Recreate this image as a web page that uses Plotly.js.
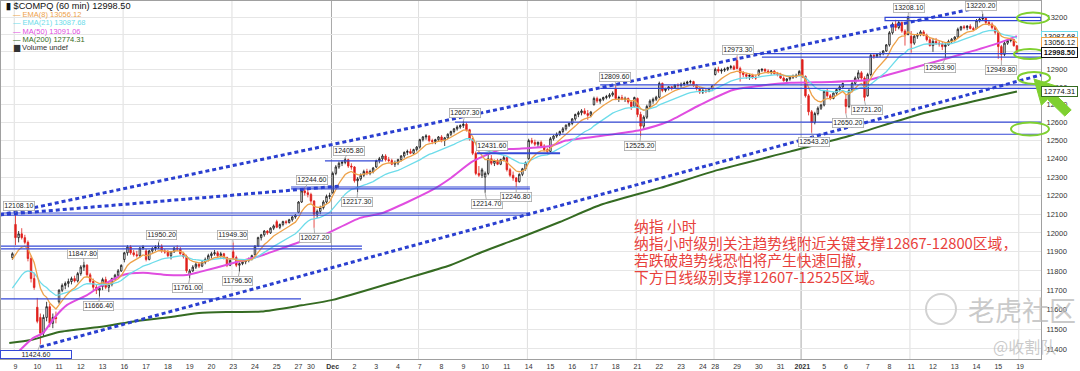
<!DOCTYPE html>
<html><head><meta charset="utf-8">
<script src="https://cdn.plot.ly/plotly-3.0.1.min.js"></script>
<style>html,body{margin:0;padding:0;background:#fff}#chart{width:1080px;height:371px}</style>
</head><body><div id="chart"></div>
<script>
// ---------- DATA ----------
// hourly bars; first value is the last bar of Nov 6, then one row per trading day
const open = [
11870,
12045,11975,11995,11975,11950,11865,11760,
11612,11560,11480,11560,11615,11530,11560,
11640,11700,11725,11735,11745,11760,11748,
11786,11820,11830,11780,11745,11715,11700,
11720,11755,11715,11730,11760,11778,11800,
11860,11895,11925,11895,11885,11880,11920,
11905,11860,11905,11918,11925,11930,11905,
11899,11880,11900,11920,11915,11890,11875,
11780,11800,11820,11835,11825,11845,11860,
11880,11890,11895,11880,11890,11870,11830,
11900,11870,11830,11838,11848,11855,11862,
11885,11930,11975,11990,12010,12000,12025,
12060,12030,12045,12060,12055,12070,12085,
12110,12165,12225,12215,
12206,12170,12100,12115,12135,12165,12195,
12215,12320,12355,12375,12380,12395,12360,
12355,12280,12290,12310,12330,12320,12330,
12355,12390,12400,12415,12395,12390,12370,
12377,12395,12415,12435,12440,12430,12450,
12464,12505,12520,12525,12500,12495,12505,
12520,12500,12515,12535,12550,12565,12575,
12583,12590,12560,12510,12430,12320,12310,
12300,12320,12400,12375,12390,12370,12395,
12406,12340,12310,12295,12275,12315,12345,
12400,12500,12490,12480,12490,12470,12450,
12440,12510,12525,12535,12550,12565,12585,
12595,12620,12645,12655,12665,12650,12640,
12700,12735,12720,12730,12740,12745,12755,
12790,12735,12740,12730,12735,12715,12690,
12735,12645,12580,12630,12690,12720,12730,
12742,12820,12780,12790,12800,12795,12810,
12808,12815,12820,12828,12830,12810,12790,
12771,12780,12775,12790,
12870,12900,12890,12895,12900,12910,12915,
12950,12905,12880,12870,12860,12865,12855,
12870,12895,12900,12890,12885,12890,12875,
12870,12850,12835,12845,12855,12860,12865,
12955,12860,12750,12660,12600,12650,12680,
12698,12775,12750,12735,12765,12785,12800,
12730,12690,12780,12820,12850,12880,12850,
12750,12870,12980,12975,12985,12990,13005,
13040,13110,13160,13140,13170,13120,13100,
13090,13050,13090,13100,13115,13095,13070,
13036,13060,13050,13045,13030,13040,13060,
13072,13085,13130,13145,13140,13148,13135,
13135,13180,13190,13195,13170,13160,13140,
13113,13030,12985,13050,13065,13070,13035
];
const high = [
11898,
12108.1,12010,12025,11990,11960,11880,11790,
11660,11580,11575,11640,11630,11580,11590,
11705,11735,11745,11760,11770,11775,11795,
11830,11847.8,11835,11790,11760,11730,11720,
11765,11770,11740,11765,11785,11810,11835,
11900,11935,11935,11910,11905,11925,11935,
11915,11910,11925,11935,11950.2,11940,11915,
11910,11905,11925,11935,11925,11900,11885,
11810,11830,11845,11845,11855,11870,11890,
11900,11910,11905,11900,11895,11875,11865,
11949.3,11880,11845,11855,11860,11870,11885,
11935,11980,11995,12015,12015,12030,12045,
12070,12050,12065,12068,12075,12090,12100,
12170,12235,12244.6,12230,
12215,12175,12125,12145,12175,12205,12215,
12330,12365,12385,12390,12405.8,12400,12375,
12360,12300,12320,12340,12345,12340,12355,
12395,12410,12425,12425,12410,12400,12390,
12400,12420,12440,12450,12455,12455,12470,
12510,12525,12535,12530,12510,12510,12525,
12530,12520,12540,12555,12570,12585,12590,
12607.3,12600,12565,12515,12440,12360,12350,
12330,12431.6,12420,12395,12400,12400,12415,
12410,12350,12330,12300,12320,12350,12385,
12510,12515,12505,12495,12500,12480,12460,
12520,12530,12545,12555,12575,12590,12600,
12625,12650,12665,12675,12680,12670,12665,
12745,12745,12735,12745,12755,12765,12775,
12809.6,12750,12755,12745,12740,12725,12745,
12740,12660,12640,12700,12730,12740,12750,
12830,12825,12795,12805,12805,12815,12820,
12825,12830,12835,12840,12835,12815,12800,
12790,12790,12795,12810,
12910,12915,12905,12910,12915,12925,12925,
12973.3,12915,12890,12880,12875,12875,12870,
12900,12905,12905,12900,12895,12895,12885,
12880,12860,12850,12860,12870,12875,12895,
12958,12865,12760,12670,12660,12690,12705,
12780,12790,12760,12770,12790,12810,12825,
12760,12790,12830,12860,12895,12890,12860,
12880,12990,12990,12990,13000,13010,13045,
13120,13170,13185,13180,13175,13130,13208.1,
13120,13100,13110,13125,13125,13105,13080,
13080,13080,13065,13060,13050,13070,13080,
13090,13140,13150,13155,13155,13160,13145,
13190,13200,13220.2,13200,13180,13170,13150,
13120,13040,13060,13075,13080,13075,13040
];
const low = [
11858,
11935,11950,11965,11940,11850,11740,11702,
11530,11424.6,11465,11540,11510,11505,11530,
11630,11690,11705,11715,11730,11740,11740,
11775,11800,11770,11735,11700,11680,11666.4,
11700,11705,11690,11720,11750,11770,11795,
11845,11880,11885,11875,11870,11870,11910,
11850,11855,11895,11905,11915,11895,11890,
11870,11860,11895,11905,11885,11865,11790,
11761,11795,11810,11815,11820,11835,11850,
11865,11880,11870,11870,11860,11820,11825,
11860,11820,11796.5,11830,11835,11845,11855,
11880,11925,11960,11980,11990,11995,12015,
12025,12020,12035,12045,12050,12060,12075,
12105,12160,12200,12190,
12160,12027.2,12080,12100,12125,12155,12180,
12210,12310,12345,12360,12370,12350,12340,
12270,12217.3,12280,12300,12310,12310,12320,
12350,12375,12390,12385,12380,12365,12355,
12365,12385,12405,12420,12425,12425,12440,
12455,12495,12505,12490,12480,12480,12495,
12490,12470,12510,12525,12540,12555,12565,
12570,12550,12500,12420,12310,12300,12295,
12214.7,12310,12365,12360,12365,12365,12385,
12330,12300,12280,12246.8,12270,12305,12335,
12395,12480,12470,12465,12460,12440,12425,
12435,12500,12515,12525,12540,12555,12575,
12585,12610,12630,12640,12645,12615,12630,
12695,12710,12705,12720,12730,12735,12745,
12725,12715,12725,12715,12705,12670,12685,
12630,12525.2,12560,12620,12680,12705,12720,
12735,12770,12770,12780,12780,12790,12795,
12795,12805,12810,12818,12800,12780,12760,
12760,12765,12770,12785,
12865,12880,12875,12885,12890,12900,12895,
12900,12830,12855,12845,12840,12845,12840,
12860,12885,12880,12875,12870,12870,12860,
12845,12830,12825,12835,12845,12850,12860,
12850,12740,12640,12543.2,12590,12640,12670,
12690,12740,12725,12730,12755,12775,12795,
12650.2,12680,12770,12810,12840,12840,12721.2,
12745,12860,12960,12965,12970,12980,13000,
13030,13100,13120,13130,13110,13036,13095,
12995,13040,13075,13090,13090,13060,13030,
13000,13040,13030,13010,12963.9,13035,13050,
13060,13080,13120,13130,13125,13130,13120,
13130,13170,13180,13160,13150,13130,13100,
12960,12949.8,12975,13040,13055,13030,12990
];
const close = [
11890,
11975,11995,11975,11950,11865,11760,11714,
11540,11480,11560,11615,11530,11560,11554,
11700,11725,11735,11745,11760,11748,11786,
11820,11830,11780,11745,11715,11700,11710,
11755,11715,11730,11760,11778,11800,11829,
11895,11925,11895,11885,11880,11920,11924,
11860,11905,11918,11925,11930,11905,11899,
11880,11900,11920,11915,11890,11875,11801,
11800,11820,11835,11825,11845,11860,11880,
11890,11895,11880,11890,11870,11830,11855,
11870,11830,11838,11848,11855,11862,11880,
11930,11975,11990,12010,12000,12025,12037,
12030,12045,12060,12055,12070,12085,12094,
12165,12225,12215,12206,
12170,12100,12115,12135,12165,12195,12199,
12320,12355,12375,12380,12395,12360,12355,
12280,12290,12310,12330,12320,12330,12349,
12390,12400,12415,12395,12390,12370,12377,
12395,12415,12435,12440,12430,12450,12464,
12505,12520,12525,12500,12495,12505,12520,
12500,12515,12535,12550,12565,12575,12583,
12590,12560,12510,12430,12320,12310,12339,
12320,12400,12375,12390,12370,12395,12406,
12340,12310,12295,12275,12315,12345,12378,
12500,12490,12480,12490,12470,12450,12440,
12510,12525,12535,12550,12565,12585,12595,
12620,12645,12655,12665,12650,12640,12658,
12735,12720,12730,12740,12745,12755,12765,
12735,12740,12730,12735,12715,12690,12740,
12645,12580,12630,12690,12720,12730,12742,
12820,12780,12790,12800,12795,12810,12808,
12815,12820,12828,12830,12810,12790,12771,
12780,12775,12790,12805,
12900,12890,12895,12900,12910,12915,12900,
12905,12880,12870,12860,12865,12855,12850,
12895,12900,12890,12885,12890,12875,12870,
12850,12835,12845,12855,12860,12865,12888,
12860,12750,12660,12600,12650,12680,12698,
12775,12750,12735,12765,12785,12800,12819,
12690,12780,12820,12850,12880,12850,12741,
12870,12980,12975,12985,12990,13005,13040,
13110,13160,13140,13170,13120,13100,13202,
13050,13090,13100,13115,13095,13070,13036,
13060,13050,13045,13030,13040,13060,13072,
13085,13130,13145,13140,13148,13135,13129,
13180,13190,13195,13170,13160,13140,13113,
13030,12985,13050,13065,13070,13035,12998.5
];
// first bar of each labelled day (bar number) and the axis labels
const dayStart = [0,7,14,21,28,35,42,49,56,63,70,77,84,91,95,102,109,116,123,130,137,144,151,158,165,172,179,186,193,200,207,214,221,225,232,239,246,253,260,267,274,281,288,295,302,309,316,323];
const dayLabels = ['9','10','11','12','13','16','17','18','19','20','23','24','25','27','30','<b>Dec</b>','2','3','4','7','8','9','10','11','14','15','16','17','18','21','22','23','24','28','29','30','31','<b>2021</b>','5','6','7','8','11','12','13','14','15','19'];
const weekStart = [0,35,70,102,130,165,200,225,253,288,323];
const monthStart = [102,253];
// indicator readings
const ema8Seed = 11860, ema21Seed = 11711;
const ma50Bar = [-2,5.6,8.8,12.7,16.6,23,27,34.6,41,48.7,55,59.3,70,78.6,91.5,97,110.8,118,134,140,147,156,162,172,177,188,201,209.5,220,230.7,249,262,274,278,294,305,316,322];
const ma50Val = [11340,11455,11480,11562,11624,11675,11717,11779,11790,11779,11779,11795,11841,11878,11952,11973,12080,12106,12230,12295,12385,12450,12455,12470,12500,12525,12559,12603,12698,12783,12823,12828,12839,12856,12935,12990,13050,13091];
const ma200Bar = [-2,5,14,27,37,50,59,69,79,92,102,124,140,150,162,175,188,207,226,249,268,291,322];
const ma200Val = [11430,11445,11486,11511,11537,11562,11583,11588,11590,11622,11650,11753,11831,11899,11973,12058,12149,12240,12339,12439,12525,12648,12774];
const lastClose = 12998.50, ema8Last = 13056.12, ema21Last = 13087.68, ma50Last = 13091.06, ma200Last = 12774.31;
// marked highs / lows
const markBar   = [0,22,46,70,56,72,27,93,106,110,96,144,152,151,161,193,201,232,287,311,299,317,273,267,256];
const markPrice = [12108.10,11847.80,11950.20,11949.30,11761.00,11796.50,11666.40,12244.60,12405.80,12217.30,12027.20,12607.30,12431.60,12214.70,12246.80,12809.60,12525.20,12973.30,13208.10,13220.20,12963.90,12949.80,12721.20,12650.20,12543.20];
const lowMarkBar = 8, lowMarkPrice = 11424.60;
// support / resistance levels
const levelPrice = [12106,12094,11930,11916,11655,12246,12236,12388,12430,12602,12535,12812,12792,12990,12970];
const yTicks = [11400,11500,11600,11700,11800,11900,12000,12100,12200,12300,12400,12500,12600,12700,12800,12900,13000,13100,13200];
const hiddenTicks = [13000,13100]; // covered by the value boxes in the reference
const noteLines = ['纳指 小时','纳指小时级别关注趋势线附近关键支撑12867-12800区域，','若跌破趋势线恐怕将产生快速回撤，','下方日线级别支撑12607-12525区域。'];

// ---------- BUILD ----------
const bars = close.map((_, i) => i - 1);
function ema(seed, n){ const k = 2/(n+1); let e = seed; return close.map((c,i)=>{ if(i>0) e = e + k*(c-e); else e = seed; return e; }); }
const ema8 = ema(ema8Seed, 8), ema21 = ema(ema21Seed, 21);

const PX = x => (x - 1) / 1040;
const PY = y => (359 - y) / 358;
const L = v => Math.log10(v);
const FONT = 'Liberation Sans, Arial, sans-serif';
const BLUE = '#3448d6';

const traces = [
  {type:'scatter', mode:'lines', x:ma200Bar, y:ma200Val, line:{color:'#356b22', width:2, shape:'spline', smoothing:0.6}, hoverinfo:'skip'},
  {type:'scatter', mode:'lines', x:ma50Bar, y:ma50Val, line:{color:'#e04de0', width:2, shape:'spline', smoothing:0.6}, hoverinfo:'skip'},
  {type:'scatter', mode:'lines', x:bars, y:ema21, line:{color:'#6ddcea', width:1.3}, hoverinfo:'skip'},
  {type:'scatter', mode:'lines', x:bars, y:ema8, line:{color:'#eea24a', width:1.3}, hoverinfo:'skip'},
  {type:'candlestick', x:bars, open:open, high:high, low:low, close:close, whiskerwidth:0,
   increasing:{line:{color:'#111111', width:0.8}, fillcolor:'#ffffff'},
   decreasing:{line:{color:'#e0201c', width:0.8}, fillcolor:'#e0201c'}, hoverinfo:'skip'}
];

const shapes = [];
weekStart.forEach(b => shapes.push({type:'line', xref:'x', yref:'paper', x0:b-0.4, x1:b-0.4, y0:0, y1:1, layer:'below',
  line:{color: monthStart.includes(b) ? '#a8a8a8' : '#dedede', width:1}}));
// level lines (bar ranges where each level is drawn)
const levelFrom = [-4.7,-4.7,-4.7,-4.7,-4.7,88.6,88.6,99.5,148.4,141.3,146.1,188,188,229.7,240];
const levelTo   = [165.4,165.4,111.4,111.4,91.8,165.4,165.4,118.2,175.1,329.7,329.7,329.7,329.7,329.7,329.7];
levelPrice.forEach((p,i) => shapes.push({type:'line', xref:'x', yref:'y', x0:levelFrom[i], x1:levelTo[i], y0:p, y1:p,
  line:{color:BLUE, width: i===8 ? 2 : 1.2}}));
shapes.push({type:'rect', xref:'x', yref:'y', x0:279.6, x1:329.7, y0:13181, y1:13200, line:{color:BLUE, width:1.2}});
// trend lines
const dot = {color:'#2a3fd0', width:3, dash:'4px,3px'};
shapes.push({type:'line', xref:'x', yref:'y', x0:-5, y0:12096, x1:316.5, y1:13283, line:dot});
shapes.push({type:'line', xref:'x', yref:'y', x0:-5, y0:12096, x1:104.3, y1:12251, line:dot});
shapes.push({type:'line', xref:'x', yref:'y', x0:7.9, y0:11410, x1:329.7, y1:12868, line:dot});
// green ellipses
[[1017,12.5,1049,23.5],[1014,49,1046,59],[1018,72,1050,84],[1011,122.5,1049,135.5]].forEach(e =>
  shapes.push({type:'circle', xref:'paper', yref:'paper', x0:PX(e[0]), x1:PX(e[2]), y0:PY(e[3]), y1:PY(e[1]),
    line:{color:'#7fd030', width:2}}));
// green arrow
const arrowPts = [[1034,79],[1060,87.2],[1053.9,93.1],[1071.2,109.9],[1064.8,116.1],[1047.5,99.3],[1041.4,105.3]];
shapes.push({type:'path', xref:'paper', yref:'paper', path: 'M' + arrowPts.map(p => PX(p[0]).toFixed(5)+','+PY(p[1]).toFixed(5)).join(' L') + ' Z',
  fillcolor:'#7fd030', line:{color:'#7fd030', width:1}});
// watermark logo
shapes.push({type:'circle', xref:'paper', yref:'paper', x0:PX(926), x1:PX(956), y0:PY(324), y1:PY(294), line:{color:'#d2d2d2', width:2}});

const ann = [];
// price marks
const markOff = [[3,-7],[-1,-8],[3,-7],[-1,-7],[-2,10],[-2,9],[-1,9],[7,-7],[4,-7],[-1,10],[1,10],[2,-8],[4,-7],[2,11],[0,10],[-1,-8],[-1,10],[1,-6],[1,-8],[-2,-8],[-5,10],[0,9],[2,9],[2,9],[2,9]];
markBar.forEach((b,i) => ann.push({x:b, y:L(markPrice[i]), xref:'x', yref:'y', text:markPrice[i].toFixed(2),
  showarrow:true, arrowhead:0, arrowwidth:0.8, arrowcolor:'#9a9a9a', ax:markOff[i][0], ay:markOff[i][1],
  font:{family:FONT, size:7, color:'#222'}, bgcolor:'#ffffff', bordercolor:'#a8a8a8', borderwidth:0.8, borderpad:0.5}));
ann.push({x:lowMarkBar, y:L(lowMarkPrice), xref:'x', yref:'y', text:lowMarkPrice.toFixed(2), showarrow:true, arrowhead:0,
  arrowwidth:0.8, arrowcolor:'#9a9a9a', ax:-4, ay:10, width:70, font:{family:FONT, size:7, color:'#222'},
  bgcolor:'#ffffff', bordercolor:BLUE, borderwidth:1, borderpad:0});
// right-hand value boxes
[[ema21Last,'#6ddcea',false],[ema8Last,'#eea24a',false],[lastClose,'#111111',true],[ma200Last,'#356b22',false]].forEach(v =>
  ann.push({xref:'paper', x:PX(1041), xanchor:'left', yref:'y', y:L(v[0]), text: v[2] ? '<b>'+v[0].toFixed(2)+'</b>' : v[0].toFixed(2),
    showarrow:false, font:{family:FONT, size:7.5, color:'#111'}, bgcolor:'#ffffff', bordercolor:v[1], borderwidth:1, borderpad:0, width:35}));
// legend
const leg = [
  ['<b>▮</b> $COMPQ (60 min) ' + lastClose.toFixed(2), '#111', 9.2, 6],
  ['— EMA(8) ' + ema8Last.toFixed(2), '#eea24a', 7.5, 14.5],
  ['— EMA(21) ' + ema21Last.toFixed(2), '#6ddcea', 7.5, 22.8],
  ['— MA(50) ' + ma50Last.toFixed(2), '#e04de0', 7.5, 31.5],
  ['— MA(200) ' + ma200Last.toFixed(2), '#356b22', 7.5, 40],
  ['▆ Volume undef', '#333', 7.5, 47.5]
];
leg.forEach(l => ann.push({xref:'paper', yref:'paper', x:PX(l[3] === 6 ? 4 : 11), y:PY(l[3]), xanchor:'left', yanchor:'middle',
  text:l[0], showarrow:false, font:{family:FONT, size:l[2], color:l[1]}}));
// Chinese note
const noteY = [225, 242.5, 259.5, 276.5];
noteLines.forEach((t,i) => ann.push({xref:'paper', yref:'paper', x:PX(632), y:PY(noteY[i]), xanchor:'left', yanchor:'middle',
  text:t, showarrow:false, font:{family:'Noto Sans CJK SC', size:14.8, color:'#e8413c'}}));
// watermark
ann.push({xref:'paper', yref:'paper', x:PX(1022), y:PY(309), xanchor:'center', yanchor:'middle', text:'老虎社区', showarrow:false,
  font:{family:'Noto Sans CJK SC', size:27, color:'rgba(185,185,185,0.75)'}});
ann.push({xref:'paper', yref:'paper', x:PX(1024), y:PY(346), xanchor:'center', yanchor:'middle', text:'@收割队', showarrow:false,
  font:{family:'Noto Sans CJK SC', size:16, color:'rgba(185,185,185,0.75)'}});

const layout = {
  width:1080, height:371, margin:{l:1, r:39, t:1, b:12},
  paper_bgcolor:'#ffffff', plot_bgcolor:'#ffffff', showlegend:false,
  xaxis:{range:[-4.662, 329.74], tickmode:'array', tickvals:dayStart, ticktext:dayLabels, ticks:'',
    tickfont:{family:FONT, size:7, color:'#333'}, showgrid:false, zeroline:false, showline:true, linecolor:'#a0a0a0', mirror:true,
    rangeslider:{visible:false}, ticklabelstandoff:1, fixedrange:true},
  yaxis:{type:'log', range:[4.054976, 4.123703], side:'right', tickmode:'array', tickvals:yTicks,
    ticktext:yTicks.map(v => hiddenTicks.includes(v) ? '' : String(v)),
    ticks:'', tickfont:{family:FONT, size:7.5, color:'#333'}, showgrid:true, gridcolor:'#e6e6e6', gridwidth:1,
    zeroline:false, showline:true, linecolor:'#a0a0a0', mirror:true, ticklabelstandoff:3, fixedrange:true},
  shapes:shapes, annotations:ann
};
Plotly.newPlot('chart', traces, layout, {staticPlot:true, displayModeBar:false});
</script>
</body></html>
